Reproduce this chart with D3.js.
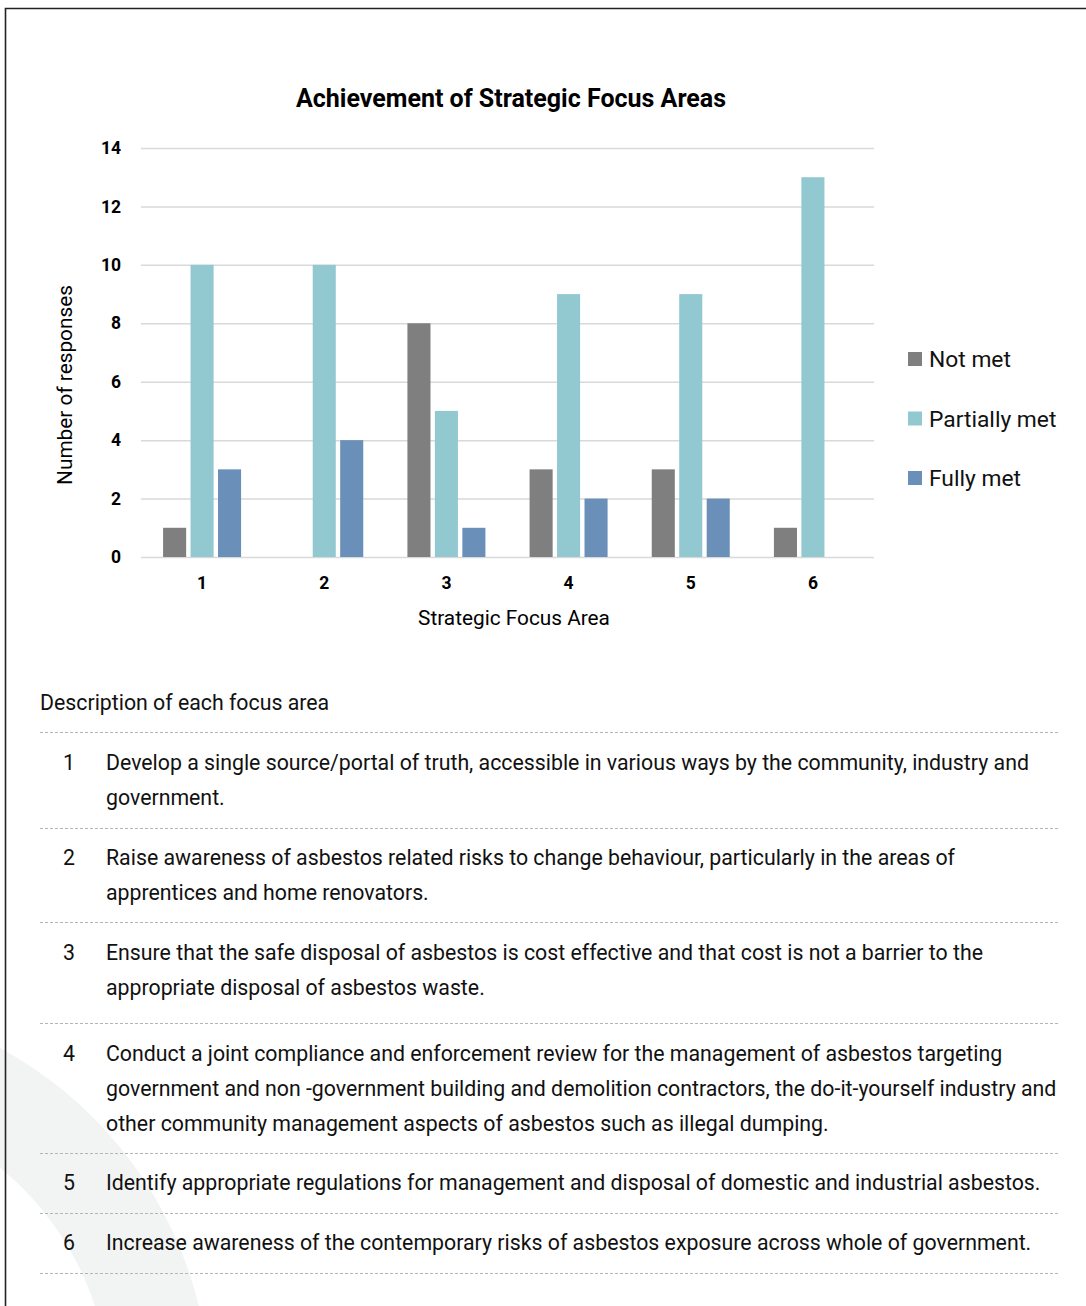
<!DOCTYPE html>
<html>
<head>
<meta charset="utf-8">
<script src="https://cdn.jsdelivr.net/npm/d3@7"></script>
<style>
  html, body { margin: 0; padding: 0; background: #fff; }
  svg { display: block; font-family: Roboto, "Noto Sans", sans-serif; }
</style>
</head>
<body>
<svg id="chart" width="1086" height="1306"></svg>
<script>
const categories = ["1", "2", "3", "4", "5", "6"];
const seriesNames = ["Not met", "Partially met", "Fully met"];
const notMet = [1, 0, 8, 3, 3, 1];
const partiallyMet = [10, 10, 5, 9, 9, 13];
const fullyMet = [3, 4, 1, 2, 2, 0];
const yTicks = [0, 2, 4, 6, 8, 10, 12, 14];
const colors = ["#7f7f7f", "#92c9d1", "#6a8fb8"];

const chartTitle = "Achievement of Strategic Focus Areas";
const yLabel = "Number of responses";
const xLabel = "Strategic Focus Area";
const descHeading = "Description of each focus area";
const descNumbers = ["1", "2", "3", "4", "5", "6"];
const descLines = [
  ["Develop a single source/portal of truth, accessible in various ways by the community, industry and", "government."],
  ["Raise awareness of asbestos related risks to change behaviour, particularly in the areas of", "apprentices and home renovators."],
  ["Ensure that the safe disposal of asbestos is cost effective and that cost is not a barrier to the", "appropriate disposal of asbestos waste."],
  ["Conduct a joint compliance and enforcement review for the management of asbestos targeting", "government and non -government building and demolition contractors, the do-it-yourself industry and", "other community management aspects of asbestos such as illegal dumping."],
  ["Identify appropriate regulations for management and disposal of domestic and industrial asbestos."],
  ["Increase awareness of the contemporary risks of asbestos exposure across whole of government."]
];

const svg = d3.select("#chart");

// background decorative ring
const ring = d3.arc().innerRadius(300).outerRadius(400).startAngle(0).endAngle(Math.PI);
svg.append("path")
  .attr("d", ring())
  .attr("transform", "translate(-190,1400)")
  .attr("fill", "#f2f4f3");

// frame
svg.append("path")
  .attr("d", "M5.5,1306 V8.5 H1086")
  .attr("fill", "none")
  .attr("stroke", "#222")
  .attr("stroke-width", 1.6);

// chart
const plot = { left: 141, right: 874, top: 148, bottom: 557 };
const x = d3.scaleBand().domain(categories).range([plot.left, plot.right]).padding(0);
const y = d3.scaleLinear().domain([0, 14]).range([plot.bottom, plot.top]);
const inner = d3.scaleBand().domain(seriesNames).range([-39, 39]).paddingInner(0.16).paddingOuter(0);

svg.append("text")
  .attr("x", 511).attr("y", 107)
  .attr("text-anchor", "middle")
  .attr("font-size", 25).attr("font-weight", "bold").attr("fill", "#000")
  .text(chartTitle);

const yAxis = svg.append("g")
  .attr("transform", `translate(${plot.left},0)`)
  .call(d3.axisLeft(y).tickValues(yTicks).tickSize(-(plot.right - plot.left)).tickPadding(20).tickFormat(d3.format("d")));
yAxis.select(".domain").remove();
yAxis.selectAll(".tick line").attr("stroke", "#d9d9d9").attr("stroke-width", 1.5);
yAxis.selectAll(".tick text").attr("font-size", 17.5).attr("font-weight", "bold").attr("fill", "#000")
  .attr("font-family", "Roboto, sans-serif");

const xAxis = svg.append("g")
  .attr("transform", `translate(0,${plot.bottom})`)
  .call(d3.axisBottom(x).tickSize(0).tickPadding(20));
xAxis.select(".domain").remove();
xAxis.selectAll(".tick text").attr("font-size", 17.5).attr("font-weight", "bold").attr("fill", "#000")
  .attr("font-family", "Roboto, sans-serif");

const seriesData = [notMet, partiallyMet, fullyMet];
seriesNames.forEach((name, si) => {
  svg.append("g").selectAll("rect")
    .data(categories.map((c, i) => ({ c, v: seriesData[si][i] })).filter(d => d.v > 0))
    .join("rect")
    .attr("x", d => x(d.c) + x.bandwidth() / 2 + inner(name))
    .attr("width", inner.bandwidth())
    .attr("y", d => y(d.v))
    .attr("height", d => y(0) - y(d.v))
    .attr("fill", colors[si]);
});

svg.append("text")
  .attr("transform", `translate(72,385) rotate(-90)`)
  .attr("text-anchor", "middle")
  .attr("font-size", 20.8).attr("fill", "#000")
  .text(yLabel);

svg.append("text")
  .attr("x", 514).attr("y", 625)
  .attr("text-anchor", "middle")
  .attr("font-size", 20.8).attr("fill", "#000")
  .text(xLabel);

// legend
const legend = svg.append("g");
seriesNames.forEach((name, i) => {
  const ly = 359 + i * 59.5;
  legend.append("rect").attr("x", 908).attr("y", ly - 7).attr("width", 14).attr("height", 14).attr("fill", colors[i]);
  legend.append("text").attr("x", 929).attr("y", ly + 8).attr("font-size", 22.8).attr("fill", "#111").text(name);
});

// description list
svg.append("text")
  .attr("x", 40).attr("y", 710)
  .attr("font-size", 21.3).attr("fill", "#111")
  .text(descHeading);

const sepY = [732, 828, 922, 1023, 1153, 1213, 1273];
svg.append("g").selectAll("line")
  .data(sepY)
  .join("line")
  .attr("x1", 40).attr("x2", 1060)
  .attr("y1", d => d + 0.5).attr("y2", d => d + 0.5)
  .attr("stroke", "#b5b5b5").attr("stroke-width", 1)
  .attr("stroke-dasharray", "3,2");

const firstBaselines = [770, 865, 960, 1061, 1190, 1250];
const lineH = 35;
descNumbers.forEach((n, i) => {
  svg.append("text").attr("x", 69).attr("y", firstBaselines[i])
    .attr("text-anchor", "middle").attr("font-size", 21.3).attr("fill", "#111").text(n);
  descLines[i].forEach((ln, j) => {
    svg.append("text").attr("x", 106).attr("y", firstBaselines[i] + j * lineH)
      .attr("font-size", 21.3).attr("fill", "#111").text(ln);
  });
});
</script>
</body>
</html>
